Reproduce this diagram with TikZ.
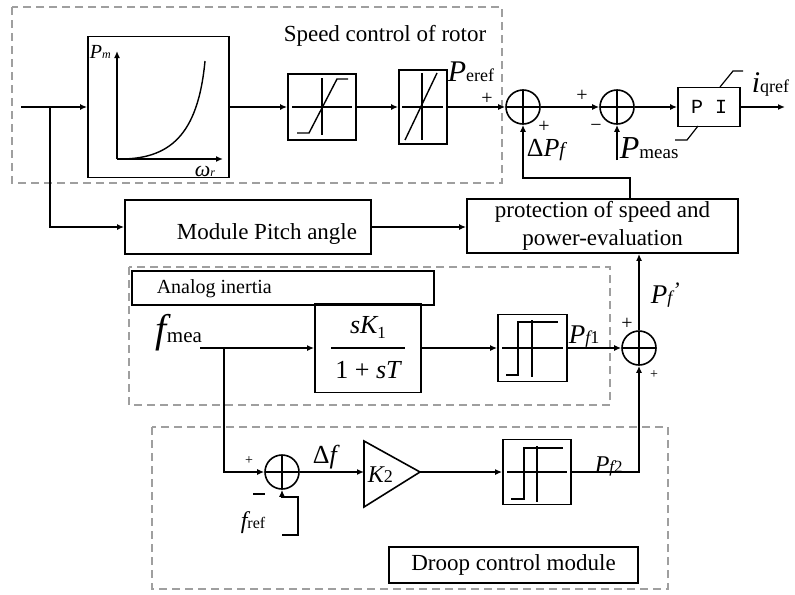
\documentclass[tikz,border=0pt]{standalone}
\usepackage{fontspec}
\setmainfont{Liberation Serif}
\newfontfamily\monof{Liberation Mono}
\usetikzlibrary{arrows.meta,calc}
\newcommand{\bigv}[2]{{\fontsize{#1}{#1}\selectfont\itshape #2}}
\newcommand{\subv}[2]{{\fontsize{#1}{#1}\selectfont #2}}
\begin{document}
\begin{tikzpicture}[x=0.5pt,y=-0.5pt,
  line width=0.8pt,
  >={Latex[length=3.5pt,width=3pt]},
  blk/.style 2 args={draw, line width=0.9pt, minimum width=#1*0.5pt, minimum height=#2*0.5pt, inner sep=0pt},
  sumc/.style={draw, circle, minimum size=17pt, inner sep=0pt,
    path picture={\draw[line width=0.7pt] (path picture bounding box.north) -- (path picture bounding box.south)
      (path picture bounding box.west) -- (path picture bounding box.east);}},
  dbox/.style={draw=gray!75, line width=0.9pt, dash pattern=on 4pt off 2.5pt},
  txt/.style={font=\fontsize{11.5}{14}\selectfont, inner sep=0pt},
  lbl/.style={inner sep=0pt, anchor=base west},
  icon/.style={line width=0.7pt},
  pm/.style={font=\fontsize{10}{10}\selectfont, inner sep=0pt},
]
\useasboundingbox[fill=white] (0,0) rectangle (795,594);

% dashed module frames
\draw[dbox] (12,7) rectangle (502,183);
\draw[dbox] (129,267) rectangle (610,405);
\draw[dbox] (152,427) rectangle (668,589);

% ---------- top row ----------
\node[blk={141}{141}] (curve) at (158.5,107) {};
\draw[icon,->] (117,159) -- (117,51);
\draw[icon,->] (117,159) -- (223,159);
\draw[icon] (117,159) .. controls (170,160) and (198,135) .. (205,61);
\node[lbl] (pmlab) at (89,58) {\bigv{10}{P}\subv{6}{\itshape m}};
\node[lbl] (wrlab) at (194,176) {\bigv{11}{ω}\subv{6}{\itshape r}};

\node[blk={68}{66}] (sat1) at (322,107) {};
\draw[icon] (292,107) -- (352,107) (322,78) -- (322,135);
\draw[icon] (297,133) -- (309,133) -- (337,79) -- (348,79);

\node[blk={48}{74}] (sat2) at (423,107) {};
\draw[icon] (402,107) -- (443,107) (422,73) -- (422,140);
\draw[icon] (405,140) -- (437,73);

\node[txt] (speedlab) at (385,36) {Speed control of rotor};
\node[lbl] (pereflab) at (447,81) {\bigv{15}{P}\subv{9}{eref}};

\node[sumc] (s1) at (523,107) {};
\node[sumc] (s2) at (617,107) {};
\node[blk={62}{39}, font=\monof\fontsize{10}{10}\selectfont] (pi) at (709,107) {P I};
\draw[line width=0.6pt] (720,87) -- (733,71) -- (743,71);
\draw[line width=0.6pt] (698,126) -- (687,140) -- (675,140);

\node[pm] (plus1) at (487,99) {+};
\node[pm] (plus1b) at (544,127) {+};
\node[pm] (plus2) at (582,96) {+};
\node[pm] (minus2) at (596,128) {−};
\node[lbl] (dpflab) at (526,156) {{\fontsize{13}{13}\selectfont Δ}\bigv{13}{P}\subv{10}{\itshape f}};
\node[lbl] (pmeaslab) at (619,158) {\bigv{16}{P}\subv{9.5}{meas}};
\node[lbl] (iqlab) at (751,92) {\bigv{15}{i}\subv{9}{qref}};

\coordinate (in) at (21,107);
\coordinate (j1) at (50,107);
\coordinate (out) at (785,107);
\coordinate (pmeas) at (617,160);
\coordinate (fbtop) at (630,178);

% ---------- middle row ----------
\node[blk={246}{54}] (pitch) at (248,227) {};
\node[txt] (pitchlab) at (267,234) {Module Pitch angle};
\node[blk={271}{54}, txt, align=center] (prot) at (602.5,226) {protection of speed and\\power-evaluation};

% ---------- analog inertia ----------
\node[blk={302}{34}] (inbox) at (283,288) {};
\node[inner sep=0pt, anchor=west, font=\fontsize{10}{10}\selectfont] (inlab) at (156,289) {Analog inertia};
\node[lbl] (fmealab) at (155,342) {\bigv{20}{f}\subv{10.5}{mea}};
\node[blk={106}{89}] (tf) at (368,348) {};
\node[inner sep=0pt] (tfnum) at (368,327) {\fontsize{13}{13}\selectfont\itshape sK\raisebox{-2.5pt}{\fontsize{8.5}{8.5}\selectfont\upshape 1}};
\draw[line width=0.6pt] (331,348) -- (405,348);
\node[inner sep=0pt] (tfden) at (368,370) {\fontsize{13}{13}\selectfont 1 + \itshape sT};
\node[blk={69}{67}] (st1) at (532.5,348) {};
\draw[icon] (502,348) -- (563,348) (532,320) -- (532,377);
\draw[icon] (506,375) -- (518,375) -- (518,322) -- (558,322);
\node[lbl] (pf1lab) at (568,343) {\bigv{13.5}{P}\subv{9}{\itshape f}\subv{9}{1}};
\node[sumc] (s3) at (639,348) {};
\node[pm] (plus3) at (627,324) {+};
\node[pm, font=\fontsize{7}{7}\selectfont] (plus3b) at (654,375) {+};
\node[lbl] (pflab) at (650,303) {\bigv{13.5}{P}\subv{9}{\itshape f}\raisebox{3pt}{\bigv{11}{'}}};

\coordinate (fin) at (200,348);
\coordinate (j2) at (224,348);

% ---------- droop ----------
\node[sumc] (s4) at (282,472) {};
\node[pm, font=\fontsize{7}{7}\selectfont] (plus4) at (249,461) {+};
\draw[line width=0.6pt] (253,494) -- (265,494);
\node[lbl] (freflab) at (240,528) {\bigv{12}{f}\subv{8}{ref}};
\node[lbl] (dflab) at (312,463) {{\fontsize{13}{13}\selectfont Δ}\bigv{13}{f}};
\coordinate (k2in) at (364,472);
\coordinate (k2out) at (420,472);
\draw[line width=0.8pt] (364,441) -- (420,472) -- (364,507) -- cycle;
\node[lbl] (k2lab) at (367,482) {\bigv{12}{K}\subv{9}{2}};
\node[blk={68}{65}] (st2) at (537,472) {};
\draw[icon] (507,472) -- (567,472) (537,446) -- (537,502);
\draw[icon] (511,499) -- (524,499) -- (524,448) -- (563,448);
\node[lbl] (pf2lab) at (594,472) {\bigv{12}{P}\subv{8.5}{\itshape f}\subv{8.5}{2}};
\node[blk={249}{36}, txt] (droop) at (513.5,565) {Droop control module};
\coordinate (fr1) at (282,535);

% ---------- connectors ----------
\draw[->] (in) -- (curve.west);
\draw[->] (j1) |- (pitch.west);
\draw[->] (curve.east) -- (sat1.west);
\draw[->] (sat1.east) -- (sat2.west);
\draw[->] (sat2.east) -- (s1.west);
\draw[->] (s1.east) -- (s2.west);
\draw[->] (s2.east) -- (pi.west);
\draw[->] (pi.east) -- (out);
\draw[->] (pmeas) -- (s2.south);
\draw[->] (prot.north -| fbtop) -- (fbtop) -| (s1.south);
\draw[->] (pitch.east) -- (pitch.east -| prot.west);
\draw[->] (fin) -- (tf.west);
\draw[->] (j2) |- (s4.west);
\draw[->] (tf.east) -- (st1.west);
\draw[->] (st1.east) -- (s3.west);
\draw[->] (s3.north) -- (s3.north |- prot.south);
\draw[->] (st2.east) -| (s3.south);
\draw[->] (s4.east) -- (k2in);
\draw[->] (k2out) -- (st2.west);
\draw[->] (fr1) -- ++(16,0) |- ($(s4.south)+(0,7)$) -- (s4.south);
\end{tikzpicture}
\end{document}
